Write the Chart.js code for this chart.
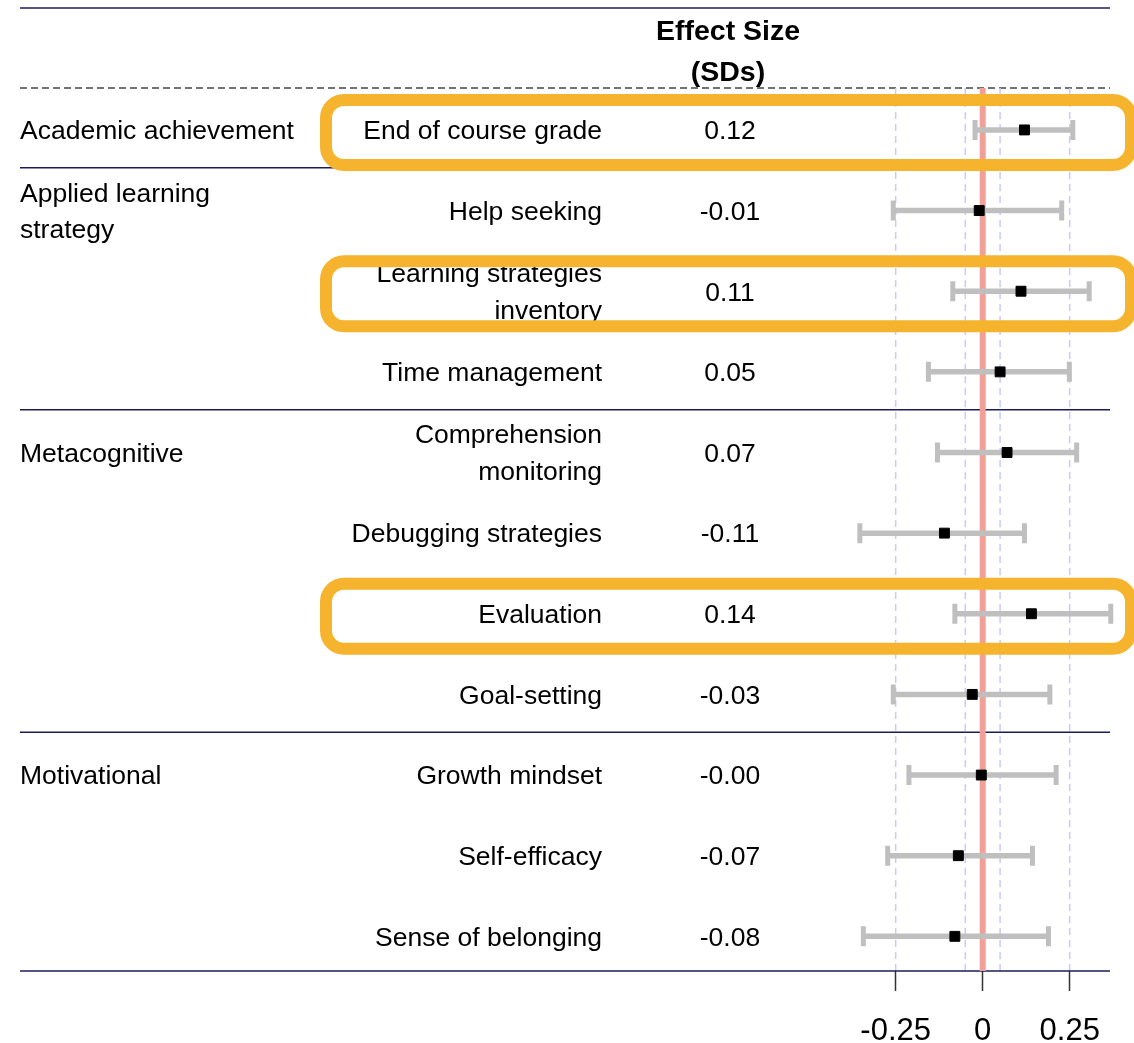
<!DOCTYPE html>
<html>
<head>
<meta charset="utf-8">
<script src="https://cdn.jsdelivr.net/npm/chart.js@4/dist/chart.umd.min.js"></script>
<style>
  html, body { margin: 0; padding: 0; background: #fff; }
  #wrap { width: 1134px; height: 1043px; }
</style>
</head>
<body>
<div id="wrap"><canvas id="chart" width="1134" height="1043"></canvas></div>
<script>
// table rows
const groups = ['Academic achievement', 'Applied learning\nstrategy', 'Metacognitive', 'Motivational'];
const groupOf = [0, 1, 1, 1, 2, 2, 2, 2, 3, 3, 3];
const outcomes = ['End of course grade', 'Help seeking', 'Learning strategies\ninventory', 'Time management',
  'Comprehension\nmonitoring', 'Debugging strategies', 'Evaluation', 'Goal-setting',
  'Growth mindset', 'Self-efficacy', 'Sense of belonging'];
// effect sizes and 95% intervals
const effects = [0.12, -0.01, 0.11, 0.05, 0.07, -0.11, 0.14, -0.03, -0.004, -0.07, -0.08];
const lower = [-0.022, -0.257, -0.086, -0.156, -0.130, -0.353, -0.080, -0.257, -0.212, -0.273, -0.343];
const upper = [0.259, 0.227, 0.306, 0.249, 0.270, 0.120, 0.368, 0.193, 0.211, 0.143, 0.189];
const xTicks = [-0.25, 0, 0.25];
const refLines = [-0.25, -0.05, 0.05, 0.25];
const highlighted = [0, 2, 6];

const FONT = "'Liberation Sans', Arial, sans-serif";
const NAVY = '#1b1b5c';

function fmt(v) {
  return (v < 0 ? '-' : '') + Math.abs(v).toFixed(2);
}

function multiline(ctx, text, x, y, gap) {
  const lines = text.split('\n');
  const start = y - (lines.length - 1) * gap / 2;
  lines.forEach((l, i) => ctx.fillText(l, x, start + i * gap));
}

function roundRect(ctx, x, y, w, h, r) {
  ctx.beginPath();
  ctx.moveTo(x + r, y);
  ctx.lineTo(x + w - r, y);
  ctx.arcTo(x + w, y, x + w, y + r, r);
  ctx.lineTo(x + w, y + h - r);
  ctx.arcTo(x + w, y + h, x + w - r, y + h, r);
  ctx.lineTo(x + r, y + h);
  ctx.arcTo(x, y + h, x, y + h - r, r);
  ctx.lineTo(x, y + r);
  ctx.arcTo(x, y, x + r, y, r);
  ctx.closePath();
}

const forestPlugin = {
  id: 'forest',
  beforeDatasetsDraw(chart) {
    const ctx = chart.ctx;
    const xs = chart.scales.x, ys = chart.scales.y;
    const area = chart.chartArea;
    ctx.save();

    // table rules
    ctx.strokeStyle = NAVY;
    ctx.lineWidth = 1.5;
    ctx.beginPath();
    ctx.moveTo(20, 8); ctx.lineTo(1110, 8);
    ctx.stroke();

    ctx.strokeStyle = '#444';
    ctx.setLineDash([7, 4]);
    ctx.beginPath();
    ctx.moveTo(20, area.top); ctx.lineTo(1110, area.top);
    ctx.stroke();
    ctx.setLineDash([]);

    // reference lines
    ctx.strokeStyle = '#c9c9ff';
    ctx.lineWidth = 1.5;
    ctx.setLineDash([7, 5]);
    refLines.forEach(v => {
      const px = xs.getPixelForValue(v);
      ctx.beginPath();
      ctx.moveTo(px, area.top); ctx.lineTo(px, area.bottom);
      ctx.stroke();
    });
    ctx.setLineDash([]);

    // group separators
    ctx.strokeStyle = NAVY;
    ctx.lineWidth = 1.5;
    for (let i = 0; i < groupOf.length; i++) {
      const last = i === groupOf.length - 1;
      if (last || groupOf[i + 1] !== groupOf[i]) {
        const py = last ? area.bottom : ys.getPixelForValue(i + 1.47);
        ctx.beginPath();
        ctx.moveTo(20, py); ctx.lineTo(1110, py);
        ctx.stroke();
      }
    }

    // zero line
    const x0 = xs.getPixelForValue(0);
    ctx.strokeStyle = '#f0a097';
    ctx.lineWidth = 6;
    ctx.beginPath();
    ctx.moveTo(x0, area.top); ctx.lineTo(x0, area.bottom);
    ctx.stroke();

    // intervals
    ctx.strokeStyle = '#bfbfbf';
    ctx.lineWidth = 5.5;
    ctx.lineCap = 'butt';
    effects.forEach((e, i) => {
      const py = ys.getPixelForValue(i + 1);
      const l = xs.getPixelForValue(lower[i]);
      const u = xs.getPixelForValue(upper[i]);
      ctx.beginPath();
      ctx.moveTo(l, py); ctx.lineTo(u, py);
      ctx.stroke();
      ctx.lineWidth = 5;
      ctx.beginPath();
      ctx.moveTo(l, py - 10); ctx.lineTo(l, py + 10);
      ctx.moveTo(u, py - 10); ctx.lineTo(u, py + 10);
      ctx.stroke();
      ctx.lineWidth = 5.5;
    });
    ctx.restore();
  },
  afterDatasetsDraw(chart) {
    const ctx = chart.ctx;
    const ys = chart.scales.y;
    ctx.save();
    ctx.fillStyle = '#000';
    ctx.textBaseline = 'middle';

    // header
    ctx.font = 'bold 28.5px ' + FONT;
    ctx.textAlign = 'center';
    ctx.fillText('Effect Size', 728, 32);
    ctx.fillText('(SDs)', 728, 73);

    ctx.font = '26.5px ' + FONT;
    outcomes.forEach((name, i) => {
      const py = ys.getPixelForValue(i + 1) + 2;
      if (i === 0 || groupOf[i] !== groupOf[i - 1]) {
        ctx.textAlign = 'left';
        multiline(ctx, groups[groupOf[i]], 20, py, 36);
      }
      ctx.textAlign = 'right';
      multiline(ctx, name, 602, py, 37);
      ctx.textAlign = 'center';
      ctx.fillText(fmt(effects[i]), 730, py);
    });

    // highlight boxes
    ctx.strokeStyle = '#f6b42e';
    ctx.lineWidth = 12;
    highlighted.forEach(i => {
      const py = ys.getPixelForValue(i + 1);
      roundRect(ctx, 326, py - 30, 805, 65, 18);
      ctx.stroke();
    });
    ctx.restore();
  }
};

new Chart(document.getElementById('chart'), {
  type: 'scatter',
  data: {
    datasets: [{
      data: effects.map((e, i) => ({ x: e, y: i + 1 })),
      pointStyle: 'rect',
      pointRadius: 7,
      backgroundColor: '#000',
      borderColor: '#000',
      borderWidth: 1
    }]
  },
  options: {
    responsive: false,
    animation: false,
    events: [],
    layout: { padding: { left: 843.5, right: 20.8, top: 88, bottom: 0 } },
    plugins: { legend: { display: false }, tooltip: { enabled: false } },
    scales: {
      x: {
        type: 'linear',
        min: -0.4,
        max: 0.375,
        afterBuildTicks: scale => { scale.ticks = xTicks.map(v => ({ value: v })); },
        afterFit: scale => { scale.height = 72; },
        border: { display: false },
        grid: { drawOnChartArea: false, drawTicks: true, tickLength: 20, tickColor: '#333', tickWidth: 1.5 },
        ticks: {
          autoSkip: false,
          maxRotation: 0,
          padding: 22,
          color: '#000',
          font: { family: FONT, size: 31 },
          callback: v => (v === 0 ? '0' : String(v))
        }
      },
      y: {
        type: 'linear',
        display: false,
        reverse: true,
        min: 0.48,
        max: 11.43
      }
    }
  },
  plugins: [forestPlugin]
});
</script>
</body>
</html>
